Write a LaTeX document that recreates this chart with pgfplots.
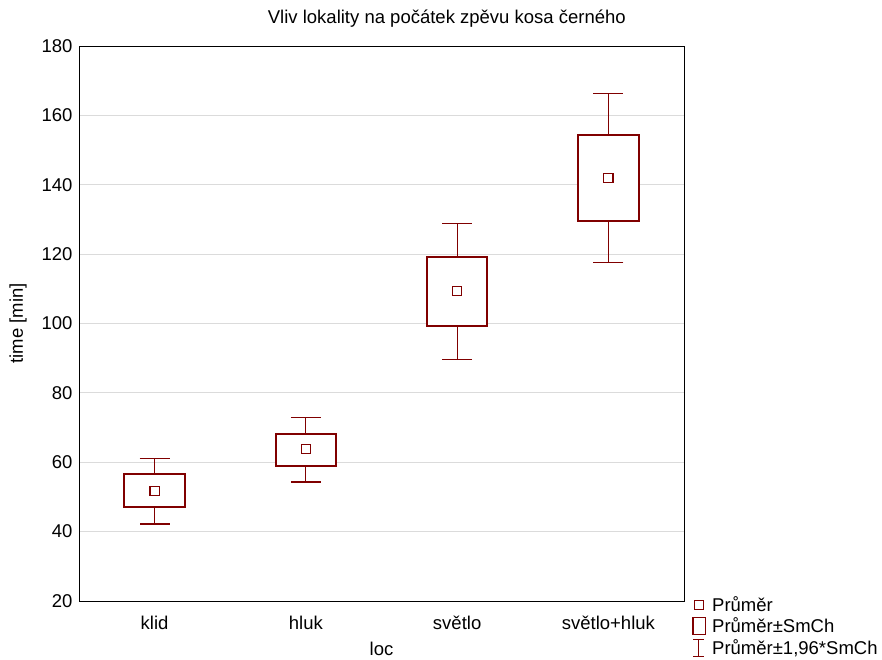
\documentclass[border=0pt]{standalone}
\usepackage{fontspec}
\setmainfont{Liberation Sans}
\usepackage{pgfplots}
\usepackage{pgfplotstable}
\pgfplotsset{compat=1.18}
\definecolor{mar}{RGB}{128,0,0}
\newcommand{\fs}{\fontsize{18.5}{21}\selectfont}
% x, mean, lower whisker, lower box, upper box, upper whisker,
% up = upper whisker - upper box, dn = lower box - lower whisker
\pgfplotstableread{
x  m     lw    lb    ub    uw    up   dn
0  51.8  42.2  47.1  56.5  61.2  4.7  4.9
1  63.8  54.3  58.9  68.1  73.0  4.9  4.6
2  109.3 89.7  99.3  119.1 128.8 9.7  9.6
3  141.9 117.6 129.5 154.4 166.3 11.9 11.9
}\data
\begin{document}
\begin{tikzpicture}
\useasboundingbox (0pt,0pt) rectangle (882pt,660pt);
\begin{axis}[
  at={(79pt,59pt)}, anchor=south west,
  scale only axis, width=605pt, height=555pt,
  xmin=-0.5, xmax=3.5, ymin=20, ymax=180,
  ytick={20,40,...,180},
  xtick={0,1,2,3}, xticklabels={klid,hluk,světlo,světlo+hluk},
  ymajorgrids, grid style={draw=black!14, line width=0.8pt},
  major tick length=0pt,
  axis line style={line width=0.8pt},
  tick label style={font=\fs},
  /pgf/number format/assume math mode=true,
  yticklabel style={xshift=-3pt},
  xticklabel style={anchor=base, yshift=-28pt},
  title={Vliv lokality na počátek zpěvu kosa černého},
  title style={font=\fs, at={(axis description cs:0.608,1.0306)}, anchor=base, yshift=0pt},
  xlabel={loc}, ylabel={time [min]},
  xlabel style={font=\fs, at={(axis description cs:0.5,-0.0973)}, anchor=base, yshift=0pt},
  ylabel style={font=\fs, at={(axis description cs:-0.1008,0.5)}, anchor=center, xshift=0pt},
  legend style={at={(axis description cs:1.013,0.012)}, anchor=north west, draw=none, fill=none,
    font=\fs, inner sep=0pt, row sep=1pt, cells={anchor=west},
    /tikz/every odd column/.append style={column sep=4pt}},
]
% upper whiskers (upper box edge to mean + 1.96 SE)
\addplot[mar, mark=none, draw=none, forget plot,
  error bars/.cd, y dir=plus, y explicit,
  error bar style={mar, line width=1.1pt},
  error mark options={mar, line width=1.1pt, mark size=15pt, rotate=90}]
  table[x=x, y=ub, y error plus=up] {\data};
% lower whiskers (mean - 1.96 SE to lower box edge)
\addplot[mar, mark=none, draw=none, forget plot,
  error bars/.cd, y dir=minus, y explicit,
  error bar style={mar, line width=1.1pt},
  error mark options={mar, line width=1.1pt, mark size=15pt, rotate=90}]
  table[x=x, y=lb, y error minus=dn] {\data};
% boxes (mean +- SE)
\addplot[mar, line width=1.9pt, fill=white, forget plot] coordinates {(-0.2,47.1) (0.2,47.1) (0.2,56.5) (-0.2,56.5)} -- cycle;
\addplot[mar, line width=1.9pt, fill=white, forget plot] coordinates {(0.8,58.9) (1.2,58.9) (1.2,68.1) (0.8,68.1)} -- cycle;
\addplot[mar, line width=1.9pt, fill=white, forget plot] coordinates {(1.8,99.3) (2.2,99.3) (2.2,119.1) (1.8,119.1)} -- cycle;
\addplot[mar, line width=1.9pt, fill=white, forget plot] coordinates {(2.8,129.5) (3.2,129.5) (3.2,154.4) (2.8,154.4)} -- cycle;
% means
\addplot[mar, only marks, mark=square, mark size=4.6pt, line width=1.1pt, mark options={fill=white}, forget plot]
  table[x=x, y=m] {\data};
\addlegendimage{legend image code/.code={\draw[mar, line width=1.1pt] (2pt,-4.5pt) rectangle (11pt,4.5pt);}}
\addlegendentry{Průměr}
\addlegendimage{legend image code/.code={\draw[mar, line width=1.6pt] (0.5pt,-8.5pt) rectangle (13pt,8.5pt);}}
\addlegendentry{Průměr±SmCh}
\addlegendimage{legend image code/.code={\draw[mar, line width=1.1pt] (6.5pt,-8.5pt)--(6.5pt,8.5pt) (1pt,8.5pt)--(12pt,8.5pt) (1pt,-8.5pt)--(12pt,-8.5pt);}}
\addlegendentry{Průměr±1,96*SmCh}
\end{axis}
\end{tikzpicture}
\end{document}
